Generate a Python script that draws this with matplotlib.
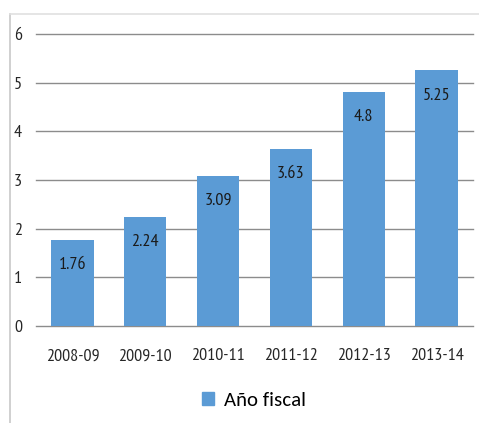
import matplotlib
matplotlib.use('Agg')
import matplotlib.pyplot as plt
from matplotlib.lines import Line2D
from matplotlib.patches import Patch

# DATOS
years = ['2008-09', '2009-10', '2010-11', '2011-12', '2012-13', '2013-14']
values = [1.76, 2.24, 3.09, 3.63, 4.8, 5.25]
value_labels = ['1.76', '2.24', '3.09', '3.63', '4.8', '5.25']
yticks = [0, 1, 2, 3, 4, 5, 6]

narrow = ['PT Sans Narrow', 'DejaVu Sans']
bar_color = '#5b9bd5'
grid_color = '#8c8c8c'

W, H = 479, 423
fig = plt.figure(figsize=(W / 100, H / 100), dpi=100)
ax = fig.add_axes([36 / W, (H - 326) / H, (473 - 36) / W, (326 - 34) / H])

x = range(len(years))
ax.bar(x, values, width=0.58, color=bar_color, zorder=3)

# ETIQUETAS DENTRO DE LAS BARRAS
for i, (v, lab) in enumerate(zip(values, value_labels)):
    ax.annotate(lab, (i, v), xytext=(0, -18), textcoords='offset points',
                ha='center', va='center', fontsize=13, color='#1a1a1a',
                family=narrow, zorder=4)

ax.set_ylim(0, 6)
ax.set_xlim(-0.5, len(years) - 0.5)
ax.set_yticks(yticks)
ax.set_yticklabels([str(t) for t in yticks], family=narrow, fontsize=13)
ax.set_xticks(list(x))
ax.set_xticklabels(years, family=narrow, fontsize=13)
ax.tick_params(axis='both', length=0, colors='#262626')
ax.tick_params(axis='y', pad=10)
ax.tick_params(axis='x', pad=16)
for t in yticks:
    ax.axhline(t, color=grid_color, lw=1.0, zorder=1, clip_on=False)
for s in ax.spines.values():
    s.set_visible(False)

# LEYENDA
fig.legend(handles=[Patch(color=bar_color)], labels=['Año fiscal'],
           loc='center', bbox_to_anchor=(254 / W, (H - 400) / H),
           frameon=False, handlelength=0.6, handleheight=0.6,
           handletextpad=0.5, prop={'family': ['Carlito', 'DejaVu Sans'], 'size': 15})

# BORDE DEL GRAFICO
fig.add_artist(Line2D([10 / W, 10 / W], [0, (H - 14) / H], color='#c8c8c8', lw=1.2))
fig.add_artist(Line2D([10 / W, 1], [(H - 14) / H, (H - 14) / H], color='#e0e0e0', lw=1.2))

fig.savefig('out.png', dpi=100)
